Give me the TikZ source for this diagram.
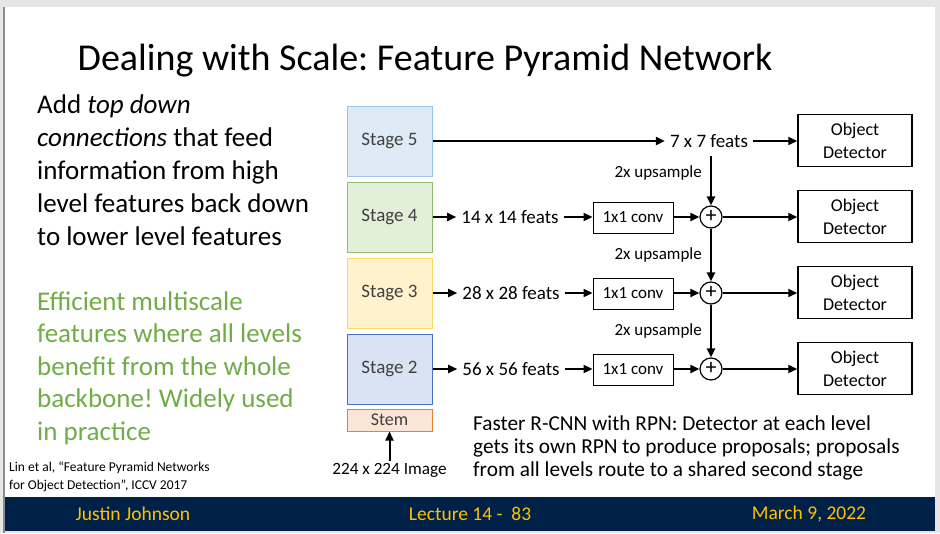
\documentclass[tikz,border=0pt]{standalone}
\usepackage{fontspec}
\setmainfont{Carlito}
\usetikzlibrary{arrows.meta}
\definecolor{navy}{HTML}{002147}
\definecolor{gold}{HTML}{FFC000}
\definecolor{fgreen}{HTML}{70AD47}
\definecolor{framegray}{HTML}{E6E6E6}
\definecolor{edgegray}{HTML}{8C8C8C}
\definecolor{s5fill}{HTML}{DEEBF7}\definecolor{s5draw}{HTML}{9DC3E6}
\definecolor{s4fill}{HTML}{E2F0D9}\definecolor{s4draw}{HTML}{8FBC6A}
\definecolor{s3fill}{HTML}{FFF2CC}\definecolor{s3draw}{HTML}{FFD966}
\definecolor{s2fill}{HTML}{DAE3F3}\definecolor{s2draw}{HTML}{4472C4}
\definecolor{stfill}{HTML}{FBE5D6}\definecolor{stdraw}{HTML}{ED7D31}
\definecolor{stagetext}{HTML}{404040}
\frenchspacing
\begin{document}
\begin{tikzpicture}[x=1pt,y=-1pt,
  stagebox/.style={draw, line width=1pt, minimum width=85pt, minimum height=70pt, inner sep=0pt,
    text=stagetext, font=\fontsize{19}{22}\selectfont},
  detbox/.style={draw, line width=1.5pt, minimum width=114pt, minimum height=52pt, inner sep=0pt,
    align=center, font=\fontsize{18}{23}\selectfont},
  convbox/.style={draw, line width=0.9pt, minimum width=80pt, minimum height=31pt, inner sep=0pt,
    font=\fontsize{17}{20}\selectfont},
  sumc/.style={circle, draw, line width=1.2pt, minimum size=22pt, inner sep=0pt},
  feat/.style={inner xsep=5pt, inner ysep=2pt, font=\fontsize{19}{22}\selectfont},
  ups/.style={anchor=east, inner sep=0pt, font=\fontsize{17}{20}\selectfont},
  arr/.style={-{Triangle[length=9pt,width=8pt]}, line width=2pt},
  foot/.style={text=gold, font=\fontsize{19.5}{21}\selectfont}
]
\useasboundingbox (0,0) rectangle (940,533);
% frame
\fill[framegray] (0,0) rectangle (940,533);
\fill[white] (5,7) rectangle (935,497);
\fill[navy] (5,497) rectangle (935,531);
\fill[edgegray] (3,7) rectangle (5,533);

% title
\node[anchor=center, font=\fontsize{38}{44}\selectfont] (title) at (425,61) {Dealing with Scale: Feature Pyramid Network};

% left text (base = baseline of last line)
\node[anchor=base west, align=left, inner sep=0pt, font=\fontsize{27}{33}\selectfont] (lt1) at (37,245)
  {Add \textit{top down}\\ \textit{connections} that feed\\ information from high\\ level features back down\\ to lower level features};
\node[anchor=base west, align=left, inner sep=0pt, text=fgreen, font=\fontsize{27}{32.5}\selectfont] (lt2) at (37,440)
  {Efficient multiscale\\ features where all levels\\ benefit from the whole\\ backbone! Widely used\\ in practice};

% citation
\node[anchor=west, align=left, inner sep=0pt, font=\fontsize{13.5}{18}\selectfont] (cite) at (9,477)
  {Lin et al, “Feature Pyramid Networks\\ for Object Detection”, ICCV 2017};

% stages
\node[stagebox, fill=s5fill, draw=s5draw] (s5) at (389.5,141) {Stage 5};
\node[stagebox, fill=s4fill, draw=s4draw] (s4) at (389.5,217) {Stage 4};
\node[stagebox, fill=s3fill, draw=s3draw] (s3) at (389.5,293) {Stage 3};
\node[stagebox, fill=s2fill, draw=s2draw] (s2) at (389.5,369) {Stage 2};
\node[draw=stdraw, fill=stfill, line width=1pt, minimum width=85pt, minimum height=22pt, inner sep=0pt,
  text=stagetext, font=\fontsize{18}{20}\selectfont] (stem) at (389.5,420) {Stem};
\node[inner sep=2pt, font=\fontsize{17.2}{19}\selectfont] (img) at (389.5,470) {224 x 224 Image};
\draw[arr] (img.north) -- (stem.south);

% features
\node[feat] (f5) at (709,141) {7 x 7 feats};
\node[feat] (f4) at (510,217) {14 x 14 feats};
\node[feat] (f3) at (511,293) {28 x 28 feats};
\node[feat] (f2) at (511,369) {56 x 56 feats};

% convs
\node[convbox] (c4) at (633,217.5) {1x1 conv};
\node[convbox] (c3) at (633,293.5) {1x1 conv};
\node[convbox] (c2) at (633,369.5) {1x1 conv};

% sums
\node[sumc] (p4) at (711,217) {\fontsize{22}{22}\selectfont\raisebox{0.5pt}{+}};
\node[sumc] (p3) at (711,293) {\fontsize{22}{22}\selectfont\raisebox{0.5pt}{+}};
\node[sumc] (p2) at (711,369) {\fontsize{22}{22}\selectfont\raisebox{0.5pt}{+}};

% detectors
\node[detbox] (d5) at (855,140.5) {Object\\Detector};
\node[detbox] (d4) at (855,216.5) {Object\\Detector};
\node[detbox] (d3) at (855,292.5) {Object\\Detector};
\node[detbox] (d2) at (855,368.5) {Object\\Detector};

% upsample labels
\node[ups] (u4) at (702,173) {2x upsample};
\node[ups] (u3) at (702,255) {2x upsample};
\node[ups] (u2) at (702,331) {2x upsample};

% connectors
\draw[arr] (s5.east) -- (f5.west);
\draw[arr] (f5.east) -- (d5.west |- f5.east);
\coordinate (v5) at (711,156);
\draw[arr] (v5) -- (p4.north);
\draw[arr] (p4.south) -- (p3.north);
\draw[arr] (p3.south) -- (p2.north);

\draw[arr] (s4.east) -- (f4.west);
\draw[arr] (f4.east) -- (c4.west |- f4.east);
\draw[arr] (c4.east |- p4.west) -- (p4.west);
\draw[arr] (p4.east) -- (d4.west |- p4.east);

\draw[arr] (s3.east) -- (f3.west);
\draw[arr] (f3.east) -- (c3.west |- f3.east);
\draw[arr] (c3.east |- p3.west) -- (p3.west);
\draw[arr] (p3.east) -- (d3.west |- p3.east);

\draw[arr] (s2.east) -- (f2.west);
\draw[arr] (f2.east) -- (c2.west |- f2.east);
\draw[arr] (c2.east |- p2.west) -- (p2.west);
\draw[arr] (p2.east) -- (d2.west |- p2.east);

% note
\node[anchor=base west, align=left, inner sep=0pt, font=\fontsize{21.3}{23}\selectfont] (note) at (473,476)
  {Faster R-CNN with RPN: Detector at each level\\ gets its own RPN to produce proposals; proposals\\ from all levels route to a shared second stage};

% footer
\node[foot] (fa) at (133,514) {Justin Johnson};
\node[foot] (fb) at (470,514) {Lecture 14 -\ \ 83};
\node[foot] (fc) at (809,514) {March 9, 2022};
\end{tikzpicture}
\end{document}
